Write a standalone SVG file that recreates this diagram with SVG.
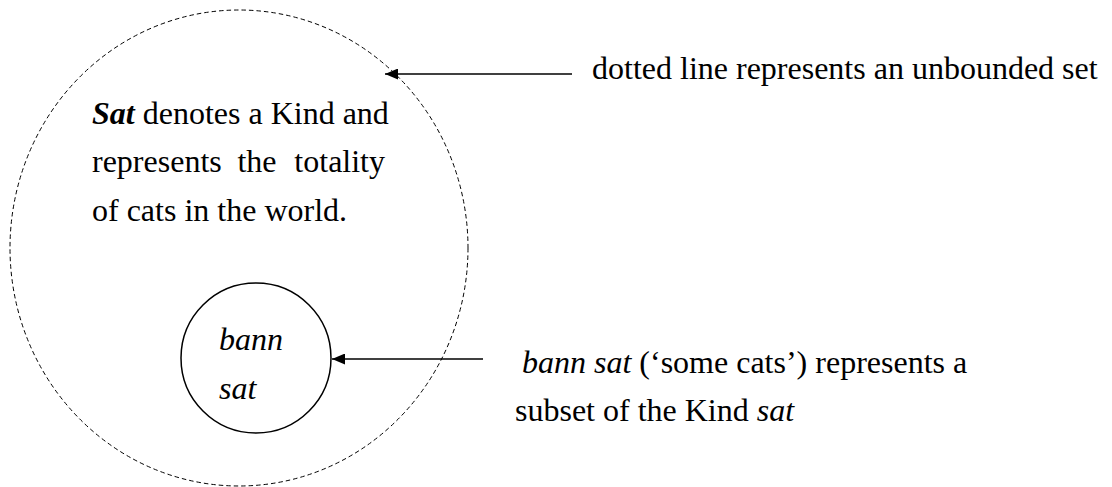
<svg xmlns="http://www.w3.org/2000/svg" width="1112" height="487" viewBox="0 0 1112 487" font-family="'Liberation Serif', 'Times New Roman', Times, serif">
  <style>
    text { font-family: 'Liberation Serif', 'Times New Roman', Times, serif; font-size: 32px; fill: #000; }
    .i { font-style: italic; }
    .bi { font-style: italic; font-weight: bold; }
    .dash { fill: none; stroke: #000; stroke-width: 1; stroke-dasharray: 4.5 3; }
    .solid { fill: none; stroke: #000; stroke-width: 1.5; }
    .conn { stroke: #000; stroke-width: 1.6; fill: none; marker-end: url(#head); }
  </style>
  <defs>
    <marker id="head" viewBox="0 0 13 11" refX="13" refY="5.5" markerWidth="13" markerHeight="11" markerUnits="userSpaceOnUse" orient="auto">
      <path d="M0,0 L13,5.5 L0,11 Z" fill="#000"/>
    </marker>
  </defs>

  <!-- unbounded set: the Kind -->
  <g id="kind">
    <ellipse class="dash" cx="239" cy="248" rx="229" ry="238"/>
    <text x="92" y="124"><tspan class="bi">Sat</tspan> denotes a Kind and</text>
    <!-- justified line: words placed one by one -->
    <text x="92" y="172">represents</text>
    <text x="257" y="172" text-anchor="middle">the</text>
    <text x="385" y="172" text-anchor="end">totality</text>
    <text x="92" y="221">of cats in the world.</text>
  </g>

  <!-- bounded subset -->
  <g id="subset">
    <circle class="solid" cx="256" cy="358" r="75"/>
    <text class="i" x="219" y="350">bann</text>
    <text class="i" x="219" y="399">sat</text>
  </g>

  <g id="note-unbounded">
    <text x="592" y="79">dotted line represents an unbounded set</text>
  </g>

  <g id="note-subset">
    <text x="522" y="373"><tspan class="i">bann sat</tspan> (‘some cats’) represents a</text>
    <text x="515" y="421">subset of the Kind <tspan class="i">sat</tspan></text>
  </g>

  <g id="connectors">
    <line class="conn" x1="572" y1="74" x2="385" y2="74"/>
    <line class="conn" x1="483" y1="359" x2="332" y2="359"/>
  </g>
</svg>
